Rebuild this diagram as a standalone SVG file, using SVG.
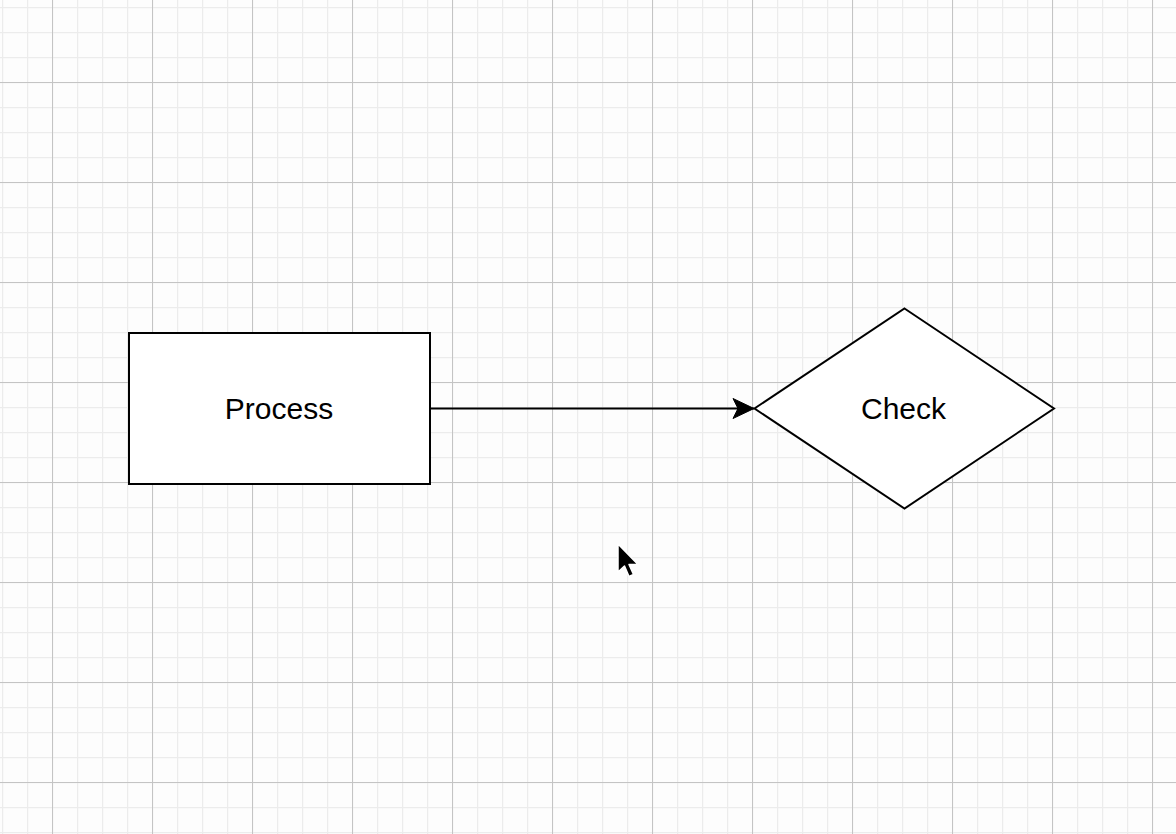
<svg xmlns="http://www.w3.org/2000/svg" width="1176" height="834" viewBox="0 0 1176 834">
  <defs>
    <pattern id="minor" x="2" y="7" width="25" height="25" patternUnits="userSpaceOnUse">
      <path d="M0.5 0 V25 M0 0.5 H25" fill="none" stroke="#ececec" stroke-width="1.5"/>
    </pattern>
    <pattern id="major" x="52" y="82" width="100" height="100" patternUnits="userSpaceOnUse">
      <path d="M0.5 0 V100 M0 0.5 H100" fill="none" stroke="#c4c4c4" stroke-width="1"/>
    </pattern>
    <marker id="arrow" markerWidth="24" markerHeight="24" refX="22" refY="12" orient="auto" markerUnits="userSpaceOnUse">
      <path d="M22 12 L1 2 L6 12 L1 22 Z" fill="#000" stroke="#000" stroke-width="1"/>
    </marker>
    <style>
      .shape { fill: #ffffff; stroke: #000000; stroke-width: 2; }
      .label { font-family: "Liberation Sans", Arial, Helvetica, sans-serif; font-size: 30px; fill: #000000; text-anchor: middle; }
      .edge { fill: none; stroke: #000000; stroke-width: 2; }
    </style>
  </defs>
  <rect x="0" y="0" width="1176" height="834" fill="#fdfdfd"/>
  <rect x="0" y="0" width="1176" height="834" fill="url(#minor)"/>
  <rect x="0" y="0" width="1176" height="834" fill="url(#major)"/>

  <g id="connectors">
    <path class="edge" d="M430 408.5 H754" marker-end="url(#arrow)"/>
  </g>

  <g id="node-process">
    <rect class="shape" x="129" y="333" width="301" height="151"/>
    <text class="label" x="279" y="419">Process</text>
  </g>

  <g id="node-check">
    <polygon class="shape" points="904.5,308.5 1054,408.5 904.5,508.5 754.5,408.5"/>
    <text class="label" x="903.5" y="419">Check</text>
  </g>

  <g id="cursor">
    <polygon points="618,544 618,572 624.5,566 629,576.5 633.5,574.5 629,564.5 638,564.5" fill="#000" stroke="#fff" stroke-width="1.5" stroke-linejoin="round"/>
  </g>
</svg>
